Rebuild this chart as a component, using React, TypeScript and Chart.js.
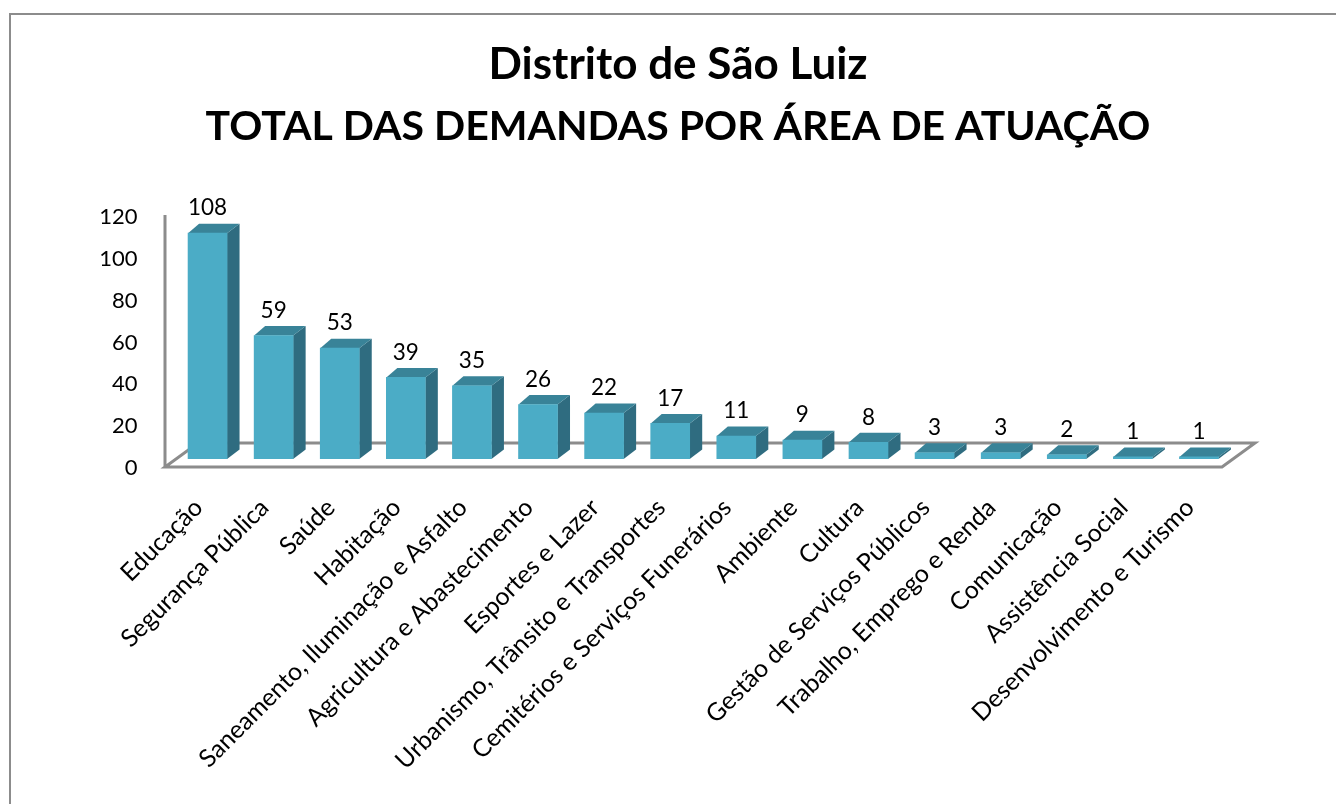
import React, { useEffect, useRef } from "react";
import { Chart, registerables } from "chart.js";

Chart.register(...registerables);

const categories = [
  "Educação",
  "Segurança Pública",
  "Saúde",
  "Habitação",
  "Saneamento, Iluminação e Asfalto",
  "Agricultura e Abastecimento",
  "Esportes e Lazer",
  "Urbanismo, Trânsito e Transportes",
  "Cemitérios e Serviços Funerários",
  "Ambiente",
  "Cultura",
  "Gestão de Serviços Públicos",
  "Trabalho, Emprego e Renda",
  "Comunicação",
  "Assistência Social",
  "Desenvolvimento e Turismo",
];
const demandas = [108, 59, 53, 39, 35, 26, 22, 17, 11, 9, 8, 3, 3, 2, 1, 1];
const titleLine = "Distrito de São Luiz";
const subtitleLine = "TOTAL DAS DEMANDAS POR ÁREA DE ATUAÇÃO";

const FONT = "Lato, Carlito, Calibri, sans-serif";
const FRONT = "#4BACC6";
const SIDE = "#2F6C80";
const TOP = "#398398";
const AXIS = "#8C8C8C";

const scene3d = {
  id: "scene3d",
  beforeDraw(chart: any) {
    const { ctx, width, height } = chart;
    ctx.save();
    ctx.fillStyle = "#fff";
    ctx.fillRect(0, 0, width, height);
    ctx.strokeStyle = AXIS;
    ctx.lineWidth = 2;
    ctx.beginPath();
    ctx.moveTo(10, height);
    ctx.lineTo(10, 14);
    ctx.lineTo(width, 14);
    ctx.stroke();
    ctx.restore();
    // the titles are centred on the outer frame, not on the canvas
    chart.boxes
      .filter((b: any) => b.position === "top")
      .forEach((b: any) => {
        b.left = 20;
        b.right = width;
      });
  },
  beforeDatasetsDraw(chart: any) {
    const { ctx, chartArea, scales } = chart;
    const y0 = scales.y.getPixelForValue(0);
    const fl = chartArea.left - 9.5;
    const fr = chartArea.right - 10;
    const fy = y0 + 8;
    const back = 33;
    const rise = 24;
    ctx.save();
    ctx.strokeStyle = AXIS;
    ctx.lineWidth = 3;
    ctx.lineJoin = "miter";
    ctx.beginPath();
    ctx.moveTo(fl, fy);
    ctx.lineTo(fr, fy);
    ctx.lineTo(fr + back, fy - rise);
    ctx.lineTo(fl + back, fy - rise);
    ctx.closePath();
    ctx.moveTo(fl, scales.y.getPixelForValue(120) + 7);
    ctx.lineTo(fl, fy);
    ctx.stroke();
    const dx = 12.5;
    const dy = 9.5;
    chart.getDatasetMeta(0).data.forEach((bar: any) => {
      const p = bar.getProps(["x", "y", "base", "width"], true);
      const l = p.x - p.width / 2;
      const r = p.x + p.width / 2;
      ctx.fillStyle = SIDE;
      ctx.beginPath();
      ctx.moveTo(r, p.y);
      ctx.lineTo(r + dx, p.y - dy);
      ctx.lineTo(r + dx, p.base - dy);
      ctx.lineTo(r, p.base);
      ctx.closePath();
      ctx.fill();
      ctx.fillStyle = TOP;
      ctx.beginPath();
      ctx.moveTo(l, p.y);
      ctx.lineTo(l + dx - 1.5, p.y - dy);
      ctx.lineTo(r + dx, p.y - dy);
      ctx.lineTo(r, p.y);
      ctx.closePath();
      ctx.fill();
    });
    ctx.restore();
  },
  afterDatasetsDraw(chart: any) {
    const { ctx } = chart;
    ctx.save();
    ctx.fillStyle = "#000";
    ctx.font = `22.5px ${FONT}`;
    ctx.textAlign = "center";
    ctx.textBaseline = "middle";
    chart.getDatasetMeta(0).data.forEach((bar: any, i: number) => {
      ctx.fillText(String(demandas[i]), bar.x, bar.y - 25);
    });
    ctx.restore();
  },
};

export default function App() {
  const ref = useRef<HTMLCanvasElement>(null);
  useEffect(() => {
    const chart = new Chart(ref.current as HTMLCanvasElement, {
      type: "bar",
      data: {
        labels: categories,
        datasets: [
          {
            data: demandas,
            backgroundColor: FRONT,
            borderWidth: 0,
            barThickness: 39,
          },
        ],
      },
      options: {
        animation: false,
        responsive: false,
        layout: { padding: { left: 0, right: 104, top: 0, bottom: 0 } },
        plugins: {
          legend: { display: false },
          tooltip: { enabled: false },
          title: {
            display: true,
            text: titleLine,
            color: "#000",
            font: { family: FONT, size: 44, weight: "bold", lineHeight: 1.41 },
            padding: { top: 34, bottom: 0 },
          },
          subtitle: {
            display: true,
            text: subtitleLine,
            color: "#000",
            font: { family: FONT, size: 41, weight: "bold", lineHeight: 1.512 },
            padding: { top: 0, bottom: 50 },
          },
        },
        scales: {
          x: {
            grid: { display: false },
            border: { display: false },
            ticks: {
              autoSkip: false,
              maxRotation: 45,
              minRotation: 45,
              padding: 26,
              labelOffset: -9,
              color: "#000",
              font: { family: FONT, size: 24.8 },
            },
            afterFit(scale: any) {
              scale.height = 345;
            },
          },
          y: {
            min: 0,
            max: 120,
            grid: { display: false },
            border: { display: false },
            ticks: {
              stepSize: 20,
              labelOffset: 9,
              padding: 29,
              color: "#000",
              font: { family: FONT, size: 22 },
            },
            afterFit(scale: any) {
              scale.width = 174.5;
            },
          },
        },
      },
      plugins: [scene3d],
    } as any);
    return () => chart.destroy();
  }, []);
  return (
    <canvas
      ref={ref}
      width={1336}
      height={804}
      style={{ position: "fixed", left: 0, top: 0, display: "block" }}
    />
  );
}
